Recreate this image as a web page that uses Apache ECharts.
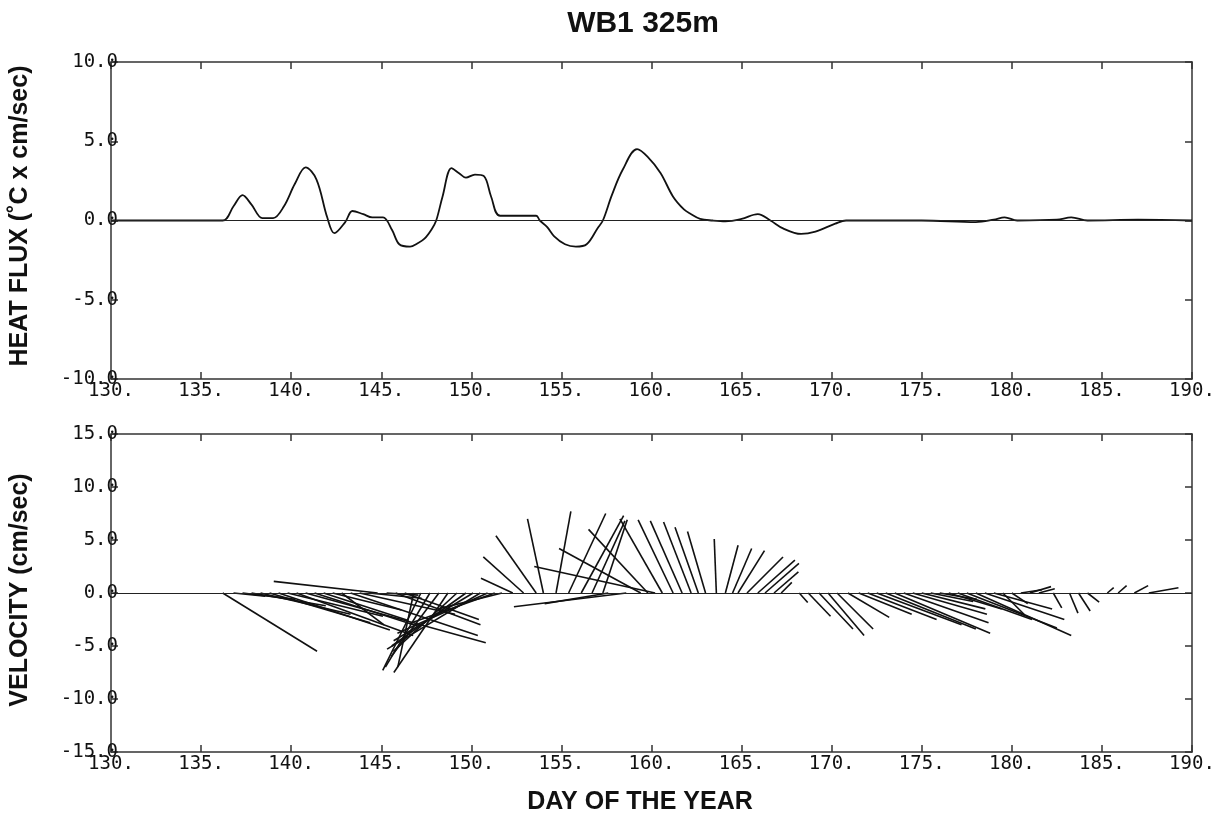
<!DOCTYPE html>
<html>
<head>
<meta charset="utf-8">
<script src="https://cdn.jsdelivr.net/npm/echarts@6/dist/echarts.min.js"></script>
<style>
  html, body { margin: 0; padding: 0; background: #fff; }
  #chart { width: 1228px; height: 826px; }
</style>
</head>
<body>
<div id="chart"></div>
<script>
// heat flux, top panel (day, °C x cm/sec)
const fluxDays = [130, 136.2, 136.8, 137.3, 137.8, 138.4, 139.0, 139.6, 140.2, 140.8, 141.4, 142.0, 142.4, 143.0, 143.4, 144.0, 144.5, 145.1, 145.6, 146.0, 146.6, 147.0, 147.4, 147.8, 148.05, 148.4, 148.9, 149.3, 149.7, 150.2, 150.7, 151.1, 151.6, 153.6, 153.8, 154.2, 154.6, 155.2, 155.8, 156.4, 157.0, 157.3, 157.8, 158.4, 159.2, 159.8, 160.5, 161.2, 161.8, 162.2, 162.7, 163.4, 164.1, 165.0, 165.9, 166.6, 167.3, 168.3, 169.1, 170.2, 170.8, 175, 178.0, 179.0, 179.6, 180.3, 182.5, 183.3, 184.2, 187, 190];
const fluxVals = [0, 0, 0.9, 1.6, 1.0, 0.15, 0.15, 0.9, 2.3, 3.35, 2.6, 0.2, -0.8, -0.1, 0.6, 0.4, 0.2, 0.2, -0.6, -1.5, -1.65, -1.45, -1.15, -0.55, 0, 1.5, 3.3, 3.0, 2.7, 2.9, 2.8, 1.5, 0.3, 0.3, 0, -0.4, -1.0, -1.5, -1.65, -1.5, -0.5, 0, 1.6, 3.2, 4.5, 4.0, 3.0, 1.5, 0.7, 0.4, 0.1, 0, -0.05, 0.1, 0.4, 0, -0.5, -0.85, -0.7, -0.2, 0, 0, -0.1, 0.05, 0.2, 0, 0.05, 0.2, 0, 0.05, 0];

// velocity sticks, bottom panel (day, east u, north v in cm/sec)
const stickDays = [136.2, 136.8, 137.3, 137.8, 138.3, 138.8, 139.3, 139.8, 140.3, 140.8, 141.3, 141.8, 142.3, 142.8, 143.3, 143.8, 144.3, 144.8, 145.3,
  145.8, 146.3, 146.8, 147.2, 147.7, 148.2, 148.7, 149.2, 149.7, 150.1, 150.5, 150.9, 151.3, 151.7,
  152.3, 152.9, 153.6, 154.0, 154.7, 155.4, 156.1, 156.7, 157.3, 157.6, 158.6, 159.4, 159.8, 160.2, 160.6, 161.2, 161.7, 162.2, 162.6, 163.0, 163.6, 164.1, 164.5, 164.8, 165.3, 165.9, 166.3, 166.8, 167.2,
  168.2, 168.7, 169.3, 169.8, 170.3, 170.9, 171.5, 172.0, 172.5, 173.0, 173.5, 174.0, 174.5, 175.0, 175.5, 176.0, 176.5, 177.0, 177.5, 178.0, 178.5, 179.0, 179.5, 180.0, 180.5, 181.0, 181.5,
  182.3, 183.2, 183.7, 184.2, 185.3, 185.9, 186.8, 187.6];
const stickU = [8.9, 3.0, 5.0, 7.0, 8.5, 9.5, 10.5, 9.0, 11.0, 17.0, 10.0, 8.0, 6.5, 4.0, 12.0, 9.0, 5.0, -9.8, 3.0,
  8.0, 7.0, -1.5, -3.6, -4.2, -4.5, -5.1, -6.0, -7.0, -7.5, -8.8, -8.5, -8.1, -6.0,
  -3.0, -3.8, -3.8, -1.5, 1.4, 3.5, 4.0, 3.1, 2.3, -6.0, -10.6, -7.7, -5.6, -11.4, -4.0, -3.3, -3.0, -2.6, -2.2, -1.7, -0.2, 1.2, 1.8, 2.5, 3.4, 3.5, 3.2, 2.3, 1.0,
  0.8, 2.1, 3.2, 3.4, 3.4, 3.9, 5.0, 6.5, 8.0, 8.5, 9.0, 8.0, 7.0, 6.0, 4.0, 3.5, 5.0, 7.0, 8.5, 9.0, 7.5, 5.5, 2.0, 1.5, 2.0, 2.0, 1.5,
  0.8, 0.8, 1.1, 1.1, 0.6, 0.8, 1.3, 2.8];
const stickV = [-5.5, -0.3, -0.6, -1.2, -2.0, -2.8, -3.5, -2.2, -4.0, -4.7, -3.2, -2.6, -1.6, -3.0, -4.0, -2.0, -0.5, 1.1, -0.2,
  -3.0, -2.5, -7.0, -7.3, -7.0, -6.0, -7.5, -5.5, -5.0, -4.5, -5.3, -3.8, -2.9, -1.5,
  1.4, 3.4, 5.4, 7.0, 7.7, 7.5, 7.3, 6.8, 6.9, -1.0, -1.3, 4.2, 6.0, 2.5, 7.0, 6.9, 6.8, 6.7, 6.2, 5.8, 5.1, 4.5, 4.2, 4.0, 3.4, 3.1, 2.8, 2.0, 1.0,
  -0.9, -2.2, -3.4, -4.0, -3.4, -2.3, -2.0, -2.5, -3.0, -3.4, -3.8, -2.8, -2.0, -1.5, -0.8, -0.6, -1.5, -2.5, -3.3, -4.0, -2.5, -1.5, -2.0, -1.0, 0.3, 0.6, 0.4,
  -1.4, -1.9, -1.7, -0.85, 0.5, 0.7, 0.7, 0.5];

const dayTicks = {min: 130, max: 190, interval: 5};

const chart = echarts.init(document.getElementById('chart'));

const monoLabel = {
    fontFamily: 'DejaVu Sans Mono',
    fontSize: 19,
    color: '#111'
};
const axisLineStyle = {color: '#333', width: 1.5};

function bottomX(grid) {
    return {
        type: 'value', gridIndex: grid, position: 'bottom',
        min: dayTicks.min, max: dayTicks.max, interval: dayTicks.interval,
        axisLine: {show: true, onZero: false, lineStyle: axisLineStyle},
        axisTick: {show: true, inside: true, length: 7, lineStyle: axisLineStyle},
        axisLabel: Object.assign({margin: 3, formatter: v => v + '.'}, monoLabel),
        splitLine: {show: false}
    };
}
function topX(grid) {
    return {
        type: 'value', gridIndex: grid, position: 'top',
        min: dayTicks.min, max: dayTicks.max, interval: dayTicks.interval,
        axisLine: {show: true, onZero: false, lineStyle: axisLineStyle},
        axisTick: {show: true, inside: true, length: 7, lineStyle: axisLineStyle},
        axisLabel: {show: false},
        splitLine: {show: false}
    };
}
function leftY(grid, lim) {
    return {
        type: 'value', gridIndex: grid, position: 'left',
        min: -lim, max: lim, interval: 5,
        axisLine: {show: true, onZero: false, lineStyle: axisLineStyle},
        axisTick: {show: true, inside: true, length: 7, lineStyle: axisLineStyle},
        axisLabel: Object.assign({margin: -7, formatter: v => v.toFixed(1)}, monoLabel),
        splitLine: {show: false}
    };
}
function rightY(grid, lim) {
    return {
        type: 'value', gridIndex: grid, position: 'right',
        min: -lim, max: lim, interval: 5,
        axisLine: {show: true, onZero: false, lineStyle: axisLineStyle},
        axisTick: {show: true, inside: true, length: 7, lineStyle: axisLineStyle},
        axisLabel: {show: false},
        splitLine: {show: false}
    };
}

const zeroLine = {
    silent: true, symbol: 'none',
    label: {show: false},
    lineStyle: {color: '#222', width: 1.2, type: 'solid'},
    data: [{yAxis: 0}]
};

const fluxData = fluxDays.map((d, i) => [d, fluxVals[i]]);
const stickData = stickDays.map((d, i) => [d, stickU[i], stickV[i]]);

const nameFont = 'bold 25px "Liberation Sans"';

chart.setOption({
    animation: false,
    backgroundColor: '#fff',
    graphic: [
        {type: 'text', x: 643, y: 24,
         style: {text: 'WB1 325m', font: 'bold 30px "Liberation Sans"', fill: '#111', align: 'center', verticalAlign: 'middle'}},
        {type: 'text', x: 20, y: 216, rotation: Math.PI / 2,
         style: {text: 'HEAT FLUX (˚C x cm/sec)', font: nameFont, fill: '#111', align: 'center', verticalAlign: 'middle'}},
        {type: 'text', x: 20, y: 590, rotation: Math.PI / 2,
         style: {text: 'VELOCITY (cm/sec)', font: nameFont, fill: '#111', align: 'center', verticalAlign: 'middle'}},
        {type: 'text', x: 640, y: 802,
         style: {text: 'DAY OF THE YEAR', font: nameFont, fill: '#111', align: 'center', verticalAlign: 'middle'}}
    ],
    grid: [
        {left: 111, right: 36, top: 62, height: 317},
        {left: 111, right: 36, top: 434, height: 318}
    ],
    xAxis: [bottomX(0), topX(0), bottomX(1), topX(1)],
    yAxis: [leftY(0, 10), rightY(0, 10), leftY(1, 15), rightY(1, 15)],
    series: [
        {
            type: 'line', xAxisIndex: 0, yAxisIndex: 0,
            data: fluxData, smooth: 0.35, showSymbol: false,
            lineStyle: {color: '#111', width: 1.8},
            markLine: zeroLine
        },
        {
            type: 'custom', xAxisIndex: 2, yAxisIndex: 2,
            data: stickData,
            renderItem: function (params, api) {
                const base = api.coord([api.value(0), 0]);
                const tip = api.coord([api.value(0), api.value(2)]);
                // same pixel scale horizontally as vertically for the east component
                const perUnit = api.size([0, 1])[1];
                return {
                    type: 'line',
                    shape: {x1: base[0], y1: base[1], x2: base[0] + api.value(1) * perUnit, y2: tip[1]},
                    style: {stroke: '#111', lineWidth: 1.6}
                };
            },
            markLine: zeroLine
        }
    ]
});
</script>
</body>
</html>
